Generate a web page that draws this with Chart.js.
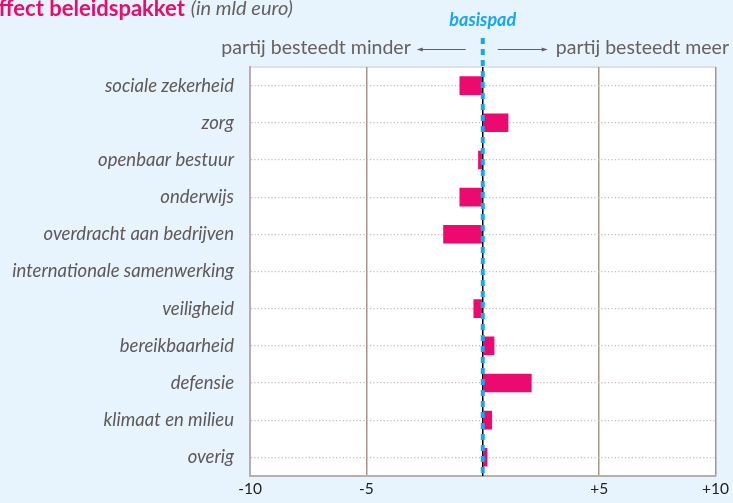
<!DOCTYPE html>
<html lang="nl">
<head>
    <meta charset="UTF-8">
    <title>Effect beleidspakket</title>
    <script src="https://cdn.jsdelivr.net/npm/chart.js"></script>
    <style>
        html, body {
            margin: 0;
            padding: 0;
            background: #e7f3fd;
        }
        #wrap {
            width: 733px;
            height: 503px;
        }
    </style>
</head>
<body>
    <div id="wrap">
        <canvas id="barChart" width="733" height="503"></canvas>
    </div>

    <script>
        // Categorieën en waarden (in mld euro)
        var categories = [
            'sociale zekerheid',
            'zorg',
            'openbaar bestuur',
            'onderwijs',
            'overdracht aan bedrijven',
            'internationale samenwerking',
            'veiligheid',
            'bereikbaarheid',
            'defensie',
            'klimaat en milieu',
            'overig'
        ];
        var values = [-1.0, 1.1, -0.2, -1.0, -1.7, 0, -0.4, 0.5, 2.1, 0.4, 0.2];
        var tickValues = [-10, -5, 0, 5, 10];

        var titleBold = 'Effect beleidspakket';
        var titleRest = '(in mld euro)';
        var baseLabel = 'basispad';
        var lessLabel = 'partij besteedt minder';
        var moreLabel = 'partij besteedt meer';

        var pink = '#ec0a6e';
        var blue = '#17a6ef';
        var grey = '#666060';

        // achtergrond, titel en basispad-lijn
        var decor = {
            id: 'decor',
            beforeDraw: function(chart) {
                var ctx = chart.ctx, a = chart.chartArea;
                ctx.save();
                ctx.fillStyle = '#e7f3fd';
                ctx.fillRect(0, 0, chart.width, chart.height);
                ctx.fillStyle = '#ffffff';
                ctx.fillRect(a.left, a.top, a.right - a.left, a.bottom - a.top);
                // bovenrand
                ctx.strokeStyle = '#d3d8dc';
                ctx.lineWidth = 1.5;
                ctx.beginPath();
                ctx.moveTo(a.left, a.top);
                ctx.lineTo(a.right, a.top);
                ctx.stroke();

                // titel
                ctx.textBaseline = 'middle';
                ctx.textAlign = 'left';
                ctx.font = 'bold 22px Lato';
                ctx.fillStyle = pink;
                var eW = ctx.measureText('E').width;
                ctx.fillText(titleBold, -eW - 1, 9);
                var w = ctx.measureText(titleBold).width;
                ctx.font = 'italic 20px Lato';
                ctx.fillStyle = grey;
                ctx.fillText(titleRest, -eW - 1 + w + 6, 9);

                var x0 = chart.scales.x.getPixelForValue(0);
                // basispad
                ctx.font = 'bold italic 18px Lato';
                ctx.fillStyle = blue;
                ctx.textAlign = 'center';
                ctx.fillText(baseLabel, x0, 20);

                // pijlen en teksten
                ctx.font = '19.5px Lato';
                ctx.fillStyle = grey;
                ctx.textAlign = 'right';
                ctx.fillText(lessLabel, x0 - 72, 48);
                ctx.textAlign = 'left';
                ctx.fillText(moreLabel, x0 + 73, 48);
                ctx.strokeStyle = grey;
                ctx.lineWidth = 1;
                ctx.beginPath();
                ctx.moveTo(x0 - 63, 49.5); ctx.lineTo(x0 - 17, 49.5);
                ctx.moveTo(x0 + 15, 49.5); ctx.lineTo(x0 + 62, 49.5);
                ctx.stroke();
                ctx.fillStyle = grey;
                ctx.beginPath();
                ctx.moveTo(x0 - 66, 49.5); ctx.lineTo(x0 - 60, 47.5); ctx.lineTo(x0 - 60, 51.5); ctx.closePath();
                ctx.moveTo(x0 + 65, 49.5); ctx.lineTo(x0 + 59, 47.5); ctx.lineTo(x0 + 59, 51.5); ctx.closePath();
                ctx.fill();
                ctx.restore();
            },
            afterDatasetsDraw: function(chart) {
                var ctx = chart.ctx, a = chart.chartArea;
                var x0 = chart.scales.x.getPixelForValue(0);
                ctx.save();
                ctx.strokeStyle = '#000000';
                ctx.lineWidth = 1.5;
                ctx.beginPath();
                ctx.moveTo(x0, a.top);
                ctx.lineTo(x0, a.bottom);
                ctx.stroke();
                ctx.strokeStyle = blue;
                ctx.lineWidth = 4;
                ctx.setLineDash([6, 5]);
                ctx.beginPath();
                ctx.moveTo(x0, 38);
                ctx.lineTo(x0, a.bottom);
                ctx.stroke();
                ctx.restore();
            }
        };

        var ctx = document.getElementById('barChart').getContext('2d');
        var myChart = new Chart(ctx, {
            type: 'bar',
            data: {
                labels: categories,
                datasets: [{
                    data: values,
                    backgroundColor: pink,
                    borderWidth: 0,
                    categoryPercentage: 1,
                    barPercentage: 0.5
                }]
            },
            options: {
                indexAxis: 'y',
                responsive: false,
                animation: false,
                layout: { padding: { left: 0, top: 67, right: 16, bottom: 0 } },
                plugins: {
                    legend: { display: false },
                    tooltip: { enabled: false }
                },
                scales: {
                    x: {
                        min: -10,
                        max: 10,
                        afterBuildTicks: function(scale) {
                            scale.ticks = tickValues.map(function(v) { return { value: v }; });
                        },
                        afterFit: function(scale) { scale.height = 24; },
                        ticks: {
                            color: '#222222',
                            font: { family: 'Lato', size: 15.5 },
                            padding: 4,
                            callback: function(v) {
                                if (v === 0) return '';
                                return v > 0 ? '+' + v : '' + v;
                            }
                        },
                        grid: {
                            drawTicks: false,
                            lineWidth: 1.5,
                            color: function(c) {
                                if (!c.tick || c.tick.value === 0 || c.tick.value === -10) return 'rgba(0,0,0,0)';
                                return '#a8948f';
                            }
                        },
                        border: { color: '#b8aeac', width: 2 }
                    },
                    y: {
                        afterFit: function(scale) { scale.width = 250; },
                        ticks: {
                            color: '#5e5858',
                            font: { family: 'Lato', size: 18.5, style: 'italic' },
                            padding: 16
                        },
                        grid: {
                            offset: false,
                            drawTicks: false,
                            color: '#c9bcbb',
                            lineWidth: 1.2
                        },
                        border: { color: '#b8aeac', width: 2, dash: [1.2, 2.2] }
                    }
                }
            },
            plugins: [decor]
        });
    </script>
</body>
</html>
